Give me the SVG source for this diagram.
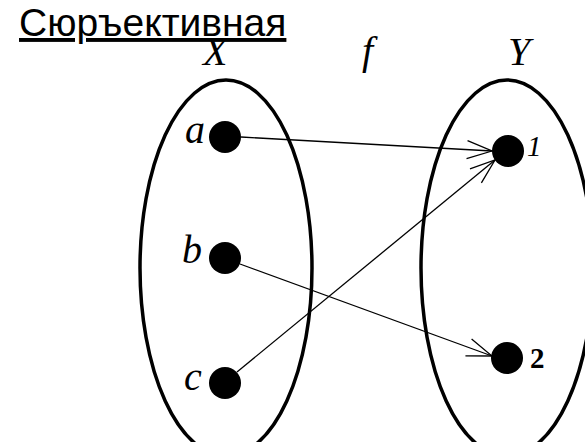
<svg xmlns="http://www.w3.org/2000/svg" width="585" height="442" viewBox="0 0 585 442">
  <style>
    .title { font-family: "Liberation Sans", Arial, sans-serif; font-size: 39px; fill: #000; text-decoration: underline; }
    .lbl { font-family: "Liberation Serif", "Times New Roman", serif; font-style: italic; font-size: 40px; fill: #000; }
    .num { font-family: "Liberation Serif", "Times New Roman", serif; font-style: italic; font-size: 29px; fill: #000; }
    .up { font-style: normal; font-weight: bold; }
    .set { fill: none; stroke: #000; stroke-width: 3.5; }
    .dot { fill: #000; }
    .edge { fill: none; stroke: #000; stroke-width: 1.3; marker-end: url(#arrow); }
  </style>
  <defs>
    <marker id="arrow" markerUnits="userSpaceOnUse" markerWidth="40" markerHeight="40" refX="0" refY="0" viewBox="-30 -20 40 40" orient="auto">
      <path d="M-25,-9 L0,0 L-25,9" fill="none" stroke="#000" stroke-width="1.3"/>
    </marker>
  </defs>
  <rect width="585" height="442" fill="#fff"/>
  <text class="title" x="19" y="36">Сюръективная</text>

  <g id="setX">
    <ellipse class="set" cx="226" cy="268" rx="86" ry="188"/>
    <text class="lbl" x="203" y="65">X</text>
  </g>
  <g id="setY">
    <ellipse class="set" cx="507" cy="268" rx="86" ry="188"/>
    <text class="lbl" x="508" y="65">Y</text>
  </g>
  <g id="label-f">
    <text class="lbl" x="362" y="64">f</text>
  </g>

  <g id="node-a">
    <circle class="dot" cx="225" cy="137" r="16"/>
    <text class="lbl" x="185" y="143">a</text>
  </g>
  <g id="node-b">
    <circle class="dot" cx="225" cy="258" r="16"/>
    <text class="lbl" x="182" y="263">b</text>
  </g>
  <g id="node-c">
    <circle class="dot" cx="225" cy="383" r="16"/>
    <text class="lbl" x="184" y="390">c</text>
  </g>
  <g id="node-1">
    <circle class="dot" cx="508" cy="151" r="16"/>
    <text class="num" x="527" y="156">1</text>
  </g>
  <g id="node-2">
    <circle class="dot" cx="507" cy="358" r="16"/>
    <text class="num up" x="530" y="368">2</text>
  </g>

  <g id="connectors">
    <line class="edge" x1="241" y1="137" x2="492" y2="151"/>
    <line class="edge" x1="237" y1="372" x2="495" y2="160"/>
    <line class="edge" x1="240" y1="264" x2="492" y2="356"/>
  </g>
</svg>
